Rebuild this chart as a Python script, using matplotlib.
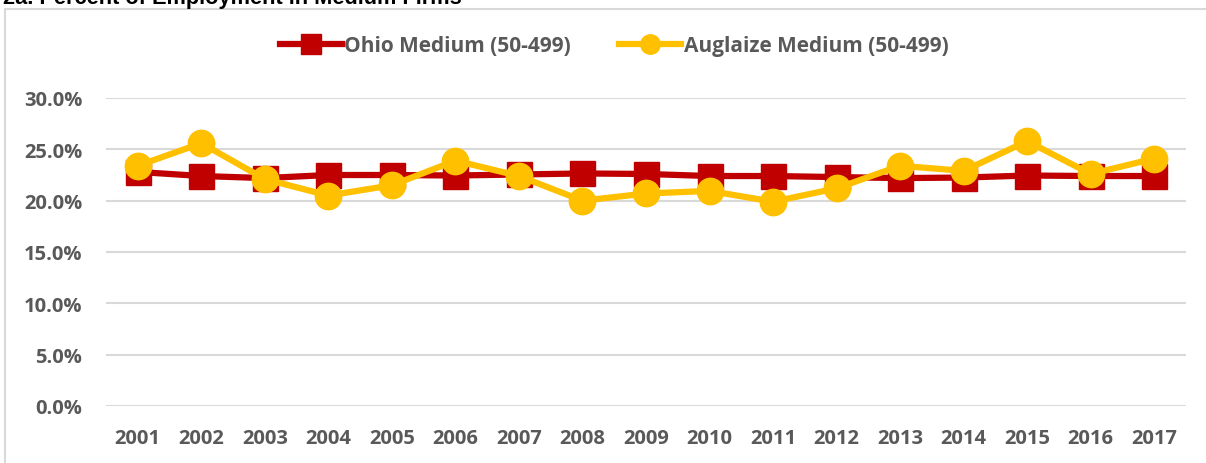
import matplotlib
matplotlib.use('Agg')
import matplotlib.pyplot as plt
from matplotlib.patches import Rectangle
from matplotlib.ticker import FuncFormatter

years = ['2001', '2002', '2003', '2004', '2005', '2006', '2007', '2008', '2009',
         '2010', '2011', '2012', '2013', '2014', '2015', '2016', '2017']
ohio = [22.8, 22.4, 22.2, 22.5, 22.5, 22.45, 22.55, 22.65, 22.6,
        22.4, 22.4, 22.3, 22.2, 22.25, 22.45, 22.4, 22.4]
auglaize = [23.4, 25.6, 22.1, 20.5, 21.5, 23.9, 22.4, 20.0, 20.7,
            20.95, 19.9, 21.2, 23.4, 22.9, 25.8, 22.6, 24.1]

plt.rcParams['font.family'] = ['Open Sans', 'DejaVu Sans']
grey = '#595959'

fig = plt.figure(figsize=(12.06, 4.64), dpi=100)

# chart frame and title (cut off at the top, as in the source)
fig.patches.append(Rectangle((5 / 1206, -0.1), 1.2, 1 - 10 / 464 + 0.1,
                             transform=fig.transFigure, fill=False,
                             edgecolor='#D9D9D9', linewidth=1.5))
fig.text(3 / 1206, 1 - 4 / 464, '2a. Percent of Employment in Medium Firms',
         fontsize=15.7, fontweight='bold', color='black', va='baseline',
         family=['Liberation Sans', 'DejaVu Sans'])

ax = fig.add_axes([106 / 1206, 1 - 407 / 464, 1080 / 1206, 308 / 464])
x = list(range(len(years)))
ax.plot(x, ohio, color='#C00000', lw=4.5, marker='s', markersize=18,
        label='Ohio Medium (50-499)', zorder=3)
ax.plot(x, auglaize, color='#FFC000', lw=4.5, marker='o', markersize=19,
        label='Auglaize Medium (50-499)', zorder=4)

ax.set_xlim(-0.5, len(years) - 0.5)
ax.set_ylim(0, 30)
ax.set_yticks(range(0, 31, 5))
ax.yaxis.set_major_formatter(FuncFormatter(lambda v, p: f'{v:.1f}%'))
ax.set_xticks(x)
ax.set_xticklabels(years)
ax.grid(axis='y', color='#D9D9D9', lw=1.5)
ax.set_axisbelow(True)
for s in ax.spines.values():
    s.set_visible(False)
ax.tick_params(length=0, labelcolor=grey, labelsize=14.5)
ax.tick_params(axis='x', pad=16)
ax.tick_params(axis='y', pad=17)
for t in ax.get_xticklabels() + ax.get_yticklabels():
    t.set_fontweight('bold')

leg = fig.legend(loc='center', bbox_to_anchor=(614 / 1206, 1 - 47 / 464), ncol=2,
                 frameon=False, handlelength=3.0, handletextpad=0.1,
                 columnspacing=2.3, prop={'weight': 'bold', 'size': 15})
for t in leg.get_texts():
    t.set_color(grey)
for h in leg.legend_handles:
    h.set_markersize(14)

fig.savefig('out.png', dpi=100)
